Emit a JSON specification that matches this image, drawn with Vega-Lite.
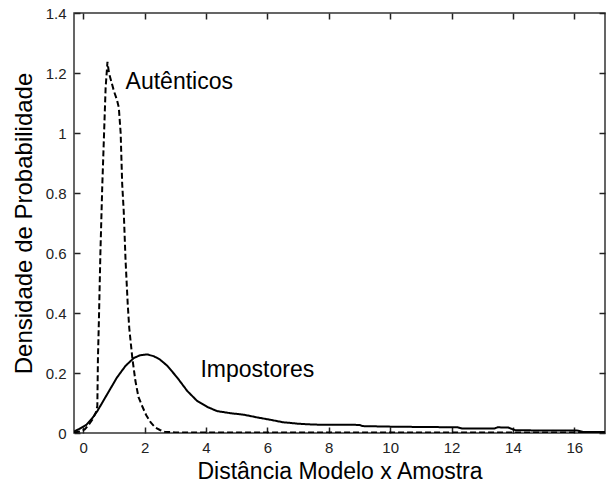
{
  "$schema": "https://vega.github.io/schema/vega-lite/v6.json",
  "autosize": "none",
  "width": 531,
  "height": 420,
  "padding": {"left": 74, "top": 13, "right": 10, "bottom": 51},
  "background": "white",
  "config": {
    "view": {"stroke": "#333", "strokeWidth": 1.5},
    "font": "Liberation Sans",
    "axis": {
      "grid": false,
      "domain": false,
      "ticks": true,
      "zindex": 2,
      "offset": -6,
      "tickColor": "#222",
      "tickOpacity": 1,
      "tickSize": 6,
      "tickWidth": 1.5,
      "labelFont": "Liberation Sans",
      "labelFontSize": 15,
      "labelColor": "#222",
      "titleFont": "Liberation Sans",
      "titleFontSize": 23,
      "titleFontWeight": "normal",
      "titleColor": "#000"
    }
  },
  "datasets": {
    "curves": [
      {"serie": "Autênticos", "x": -0.3, "y": 0.002},
      {"serie": "Autênticos", "x": -0.1, "y": 0.005},
      {"serie": "Autênticos", "x": 0.05, "y": 0.012},
      {"serie": "Autênticos", "x": 0.2, "y": 0.03},
      {"serie": "Autênticos", "x": 0.3, "y": 0.045},
      {"serie": "Autênticos", "x": 0.42, "y": 0.07},
      {"serie": "Autênticos", "x": 0.46, "y": 0.09},
      {"serie": "Autênticos", "x": 0.48, "y": 0.25},
      {"serie": "Autênticos", "x": 0.51, "y": 0.37},
      {"serie": "Autênticos", "x": 0.56, "y": 0.6},
      {"serie": "Autênticos", "x": 0.62, "y": 0.82},
      {"serie": "Autênticos", "x": 0.68, "y": 1.0},
      {"serie": "Autênticos", "x": 0.73, "y": 1.15},
      {"serie": "Autênticos", "x": 0.79, "y": 1.237},
      {"serie": "Autênticos", "x": 0.84, "y": 1.2},
      {"serie": "Autênticos", "x": 0.92, "y": 1.17},
      {"serie": "Autênticos", "x": 1.0, "y": 1.14},
      {"serie": "Autênticos", "x": 1.1, "y": 1.11},
      {"serie": "Autênticos", "x": 1.16, "y": 1.085},
      {"serie": "Autênticos", "x": 1.22, "y": 1.0},
      {"serie": "Autênticos", "x": 1.27, "y": 0.83},
      {"serie": "Autênticos", "x": 1.32, "y": 0.74},
      {"serie": "Autênticos", "x": 1.38, "y": 0.575},
      {"serie": "Autênticos", "x": 1.45, "y": 0.43},
      {"serie": "Autênticos", "x": 1.5, "y": 0.35},
      {"serie": "Autênticos", "x": 1.6, "y": 0.25},
      {"serie": "Autênticos", "x": 1.7, "y": 0.174},
      {"serie": "Autênticos", "x": 1.8, "y": 0.12},
      {"serie": "Autênticos", "x": 1.92, "y": 0.09},
      {"serie": "Autênticos", "x": 2.05, "y": 0.06},
      {"serie": "Autênticos", "x": 2.2, "y": 0.035},
      {"serie": "Autênticos", "x": 2.35, "y": 0.018},
      {"serie": "Autênticos", "x": 2.5, "y": 0.01},
      {"serie": "Autênticos", "x": 2.65, "y": 0.004},
      {"serie": "Autênticos", "x": 3.0, "y": 0.002},
      {"serie": "Autênticos", "x": 17.0, "y": 0.002},
      {"serie": "Impostores", "x": -0.3, "y": 0.005},
      {"serie": "Impostores", "x": -0.1, "y": 0.015},
      {"serie": "Impostores", "x": 0.1, "y": 0.027},
      {"serie": "Impostores", "x": 0.3, "y": 0.05},
      {"serie": "Impostores", "x": 0.46, "y": 0.073},
      {"serie": "Impostores", "x": 0.78, "y": 0.129},
      {"serie": "Impostores", "x": 1.1, "y": 0.185},
      {"serie": "Impostores", "x": 1.38, "y": 0.224},
      {"serie": "Impostores", "x": 1.65, "y": 0.25},
      {"serie": "Impostores", "x": 1.85, "y": 0.259},
      {"serie": "Impostores", "x": 2.08, "y": 0.262},
      {"serie": "Impostores", "x": 2.3, "y": 0.256},
      {"serie": "Impostores", "x": 2.5, "y": 0.245},
      {"serie": "Impostores", "x": 2.74, "y": 0.224},
      {"serie": "Impostores", "x": 3.06, "y": 0.185},
      {"serie": "Impostores", "x": 3.39, "y": 0.14},
      {"serie": "Impostores", "x": 3.71, "y": 0.107},
      {"serie": "Impostores", "x": 4.04, "y": 0.087},
      {"serie": "Impostores", "x": 4.36, "y": 0.073},
      {"serie": "Impostores", "x": 4.8, "y": 0.066},
      {"serie": "Impostores", "x": 5.23, "y": 0.061},
      {"serie": "Impostores", "x": 5.67, "y": 0.052},
      {"serie": "Impostores", "x": 6.1, "y": 0.044},
      {"serie": "Impostores", "x": 6.5, "y": 0.036},
      {"serie": "Impostores", "x": 7.0, "y": 0.031},
      {"serie": "Impostores", "x": 7.5, "y": 0.028},
      {"serie": "Impostores", "x": 9.0, "y": 0.027},
      {"serie": "Impostores", "x": 9.1, "y": 0.023},
      {"serie": "Impostores", "x": 10.1, "y": 0.021},
      {"serie": "Impostores", "x": 12.2, "y": 0.019},
      {"serie": "Impostores", "x": 12.35, "y": 0.015},
      {"serie": "Impostores", "x": 13.4, "y": 0.015},
      {"serie": "Impostores", "x": 13.5, "y": 0.019},
      {"serie": "Impostores", "x": 13.85, "y": 0.018},
      {"serie": "Impostores", "x": 14.0, "y": 0.012},
      {"serie": "Impostores", "x": 14.1, "y": 0.009},
      {"serie": "Impostores", "x": 16.1, "y": 0.008},
      {"serie": "Impostores", "x": 16.3, "y": 0.003},
      {"serie": "Impostores", "x": 17.0, "y": 0.003}
    ],
    "labels": [
      {"label": "Autênticos", "x": 1.38, "y": 1.146},
      {"label": "Impostores", "x": 3.82, "y": 0.186}
    ]
  },
  "layer": [
    {
      "data": {"name": "curves"},
      "mark": {"type": "line", "color": "#000", "strokeWidth": 2, "clip": true},
      "encoding": {
        "x": {
          "field": "x", "type": "quantitative",
          "scale": {"domain": [-0.3, 17], "nice": false, "zero": false},
          "axis": {"orient": "bottom", "values": [0, 2, 4, 6, 8, 10, 12, 14, 16], "labelPadding": 7, "title": "Distância Modelo x Amostra", "titlePadding": 5}
        },
        "y": {
          "field": "y", "type": "quantitative",
          "scale": {"domain": [0, 1.4], "nice": false, "zero": false},
          "axis": {"orient": "left", "values": [0, 0.2, 0.4, 0.6, 0.8, 1, 1.2, 1.4], "format": "~g", "labelPadding": 8, "title": "Densidade de Probabilidade", "titleFontSize": 24, "titlePadding": 9}
        },
        "detail": {"field": "serie"},
        "strokeDash": {
          "field": "serie", "type": "nominal",
          "scale": {"domain": ["Autênticos", "Impostores"], "range": [[6, 3], [1, 0]]},
          "legend": null
        }
      }
    },
    {
      "data": {"name": "labels"},
      "mark": {"type": "text", "font": "Liberation Sans", "fontSize": 23, "align": "left", "baseline": "alphabetic", "color": "#000"},
      "encoding": {
        "x": {
          "field": "x", "type": "quantitative",
          "scale": {"domain": [-0.3, 17], "nice": false, "zero": false},
          "axis": {"orient": "top", "values": [0, 2, 4, 6, 8, 10, 12, 14, 16], "labels": false, "title": null}
        },
        "y": {
          "field": "y", "type": "quantitative",
          "scale": {"domain": [0, 1.4], "nice": false, "zero": false},
          "axis": {"orient": "right", "values": [0, 0.2, 0.4, 0.6, 0.8, 1, 1.2, 1.4], "labels": false, "title": null}
        },
        "text": {"field": "label"}
      }
    }
  ],
  "resolve": {"axis": {"x": "independent", "y": "independent"}}
}
